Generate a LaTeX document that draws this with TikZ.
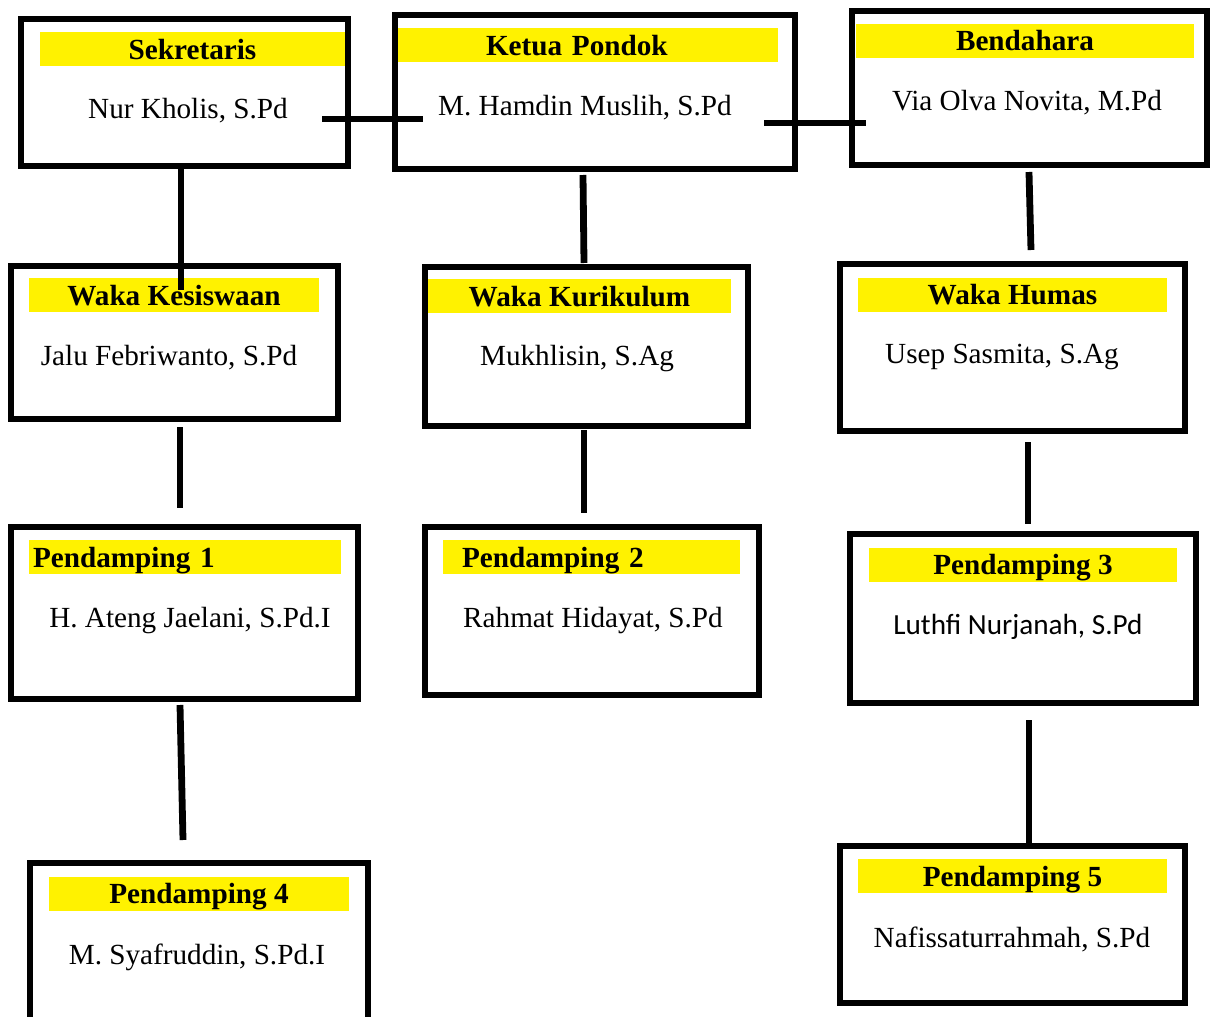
\documentclass[tikz,border=0pt]{standalone}
\usepackage{fontspec}
\setmainfont{Liberation Serif}
\newfontfamily\calibri{Carlito}
\tikzset{
  box/.style={draw, rectangle, line width=3.4pt, inner sep=0pt, outer sep=0pt},
  jabatan/.style={fill=yellow, inner sep=0pt, minimum height=17pt, text height=10pt, text depth=0pt, font=\bfseries\fontsize{14.6pt}{17pt}\selectfont},
  nama/.style={anchor=base, inner sep=0pt, font=\fontsize{14.6pt}{17pt}\selectfont},
  link/.style={line width=3.4pt}
}

\begin{document}
\begin{tikzpicture}[x=0.5pt,y=-0.5pt]
% bidang gambar
\useasboundingbox (0,0) rectangle (1212,1017);
\clip (0,0) rectangle (1212,1017);
\fill[white] (0,0) rectangle (1212,1017);

% kotak tiap pengurus
\node[box, minimum width=163.5pt, minimum height=73.5pt] (sek) at (184.5,92.5) {};
\node[box, minimum width=200pt, minimum height=77pt] (ketua) at (595,92) {};
\node[box, minimum width=177.5pt, minimum height=77pt] (bend) at (1029.5,88) {};
\node[box, minimum width=163.5pt, minimum height=76.5pt] (kes) at (174.5,342.5) {};
\node[box, minimum width=161.5pt, minimum height=79.5pt] (kur) at (586.5,346.5) {};
\node[box, minimum width=172.5pt, minimum height=83.5pt] (hum) at (1012.5,347.5) {};
\node[box, minimum width=173.5pt, minimum height=86pt] (p1) at (184.5,613) {};
\node[box, minimum width=167pt, minimum height=84pt] (p2) at (592,611) {};
\node[box, minimum width=173pt, minimum height=84.5pt] (p3) at (1023,618.5) {};
\node[box, minimum width=169pt, minimum height=88.5pt] (p4) at (199,951.5) {};
\node[box, minimum width=172.5pt, minimum height=78.5pt] (p5) at (1012.5,924.5) {};

% pita kuning dengan nama jabatan
\node[jabatan, minimum width=152.5pt] (sek-jab) at (192.5,49) {Sekretaris};
\node[jabatan, text width=102pt, inner xsep=44pt, align=left] (ketua-jab) at (588,45) {Ketua Pondok};
\node[jabatan, minimum width=169pt] (bend-jab) at (1025,40.5) {Bendahara};
\node[jabatan, minimum width=145pt] (kes-jab) at (174,295) {Waka Kesiswaan};
\node[jabatan, minimum width=151.5pt] (kur-jab) at (579.5,296) {Waka Kurikulum};
\node[jabatan, minimum width=154.5pt] (hum-jab) at (1012.5,294.5) {Waka Humas};
\node[jabatan, text width=152pt, inner xsep=2pt, align=left] (p1-jab) at (185,557) {Pendamping 1};
\node[jabatan, text width=129.5pt, inner xsep=9.5pt, align=left] (p2-jab) at (591.5,557) {Pendamping 2};
\node[jabatan, minimum width=154pt] (p3-jab) at (1023,564.5) {Pendamping 3};
\node[jabatan, minimum width=150pt] (p4-jab) at (199,893.5) {Pendamping 4};
\node[jabatan, minimum width=154.5pt] (p5-jab) at (1012.5,876) {Pendamping 5};

% nama pengurus
\node[nama] (sek-nama) at (188,119) {Nur Kholis, S.Pd};
\node[nama] (ketua-nama) at (585,115) {M. Hamdin Muslih, S.Pd};
\node[nama] (bend-nama) at (1027,110) {Via Olva Novita, M.Pd};
\node[nama] (kes-nama) at (169,365) {Jalu Febriwanto, S.Pd};
\node[nama] (kur-nama) at (577,365) {Mukhlisin, S.Ag};
\node[nama] (hum-nama) at (1002,363) {Usep Sasmita, S.Ag};
\node[nama] (p1-nama) at (190,627) {H. Ateng Jaelani, S.Pd.I};
\node[nama] (p2-nama) at (593,627) {Rahmat Hidayat, S.Pd};
\node[nama, font=\calibri\fontsize{14.6pt}{17pt}\selectfont] (p3-nama) at (1018,634) {Luthfi Nurjanah, S.Pd};
\node[nama] (p4-nama) at (197,964) {M. Syafruddin, S.Pd.I};
\node[nama] (p5-nama) at (1012,947) {Nafissaturrahmah, S.Pd};

% garis mendatar antar pengurus inti
\draw[link] ([xshift=-13pt,yshift=-13.25pt]sek.east) -- ([xshift=14pt,yshift=-13.25pt]sek.east -| ketua.west);
\draw[link] ([xshift=-15.5pt,yshift=-15.5pt]ketua.east) -- ([xshift=7pt,yshift=-15.5pt]ketua.east -| bend.west);

% garis tegak ke bawahan
\draw[link] ([xshift=-1.75pt]sek.south) -- ([xshift=-1.75pt,yshift=-12pt]sek.south |- kes.north);
\draw[link] ([xshift=-6pt,yshift=-3pt]ketua.south) -- ([xshift=-1.25pt,yshift=2pt]kur.north);
\draw[link] ([xshift=-0.25pt,yshift=-3.5pt]bend.south) -- ([xshift=9.25pt,yshift=7pt]hum.north);
\draw[link] ([xshift=2.75pt,yshift=-4pt]kes.south) -- ([xshift=-2.25pt,yshift=9.5pt]p1.north);
\draw[link] ([xshift=-1.25pt,yshift=-2pt]kur.south) -- ([xshift=-4pt,yshift=7pt]p2.north);
\draw[link] ([xshift=7.75pt,yshift=-5.5pt]hum.south) -- ([xshift=2.5pt,yshift=5pt]p3.north);
\draw[link] ([xshift=-2.25pt,yshift=-3pt]p1.south) -- ([xshift=-8pt,yshift=11.5pt]p4.north);
\draw[link] ([xshift=3pt,yshift=-8.5pt]p3.south) -- ([xshift=8.25pt,yshift=1.5pt]p5.north);
\end{tikzpicture}
\end{document}
